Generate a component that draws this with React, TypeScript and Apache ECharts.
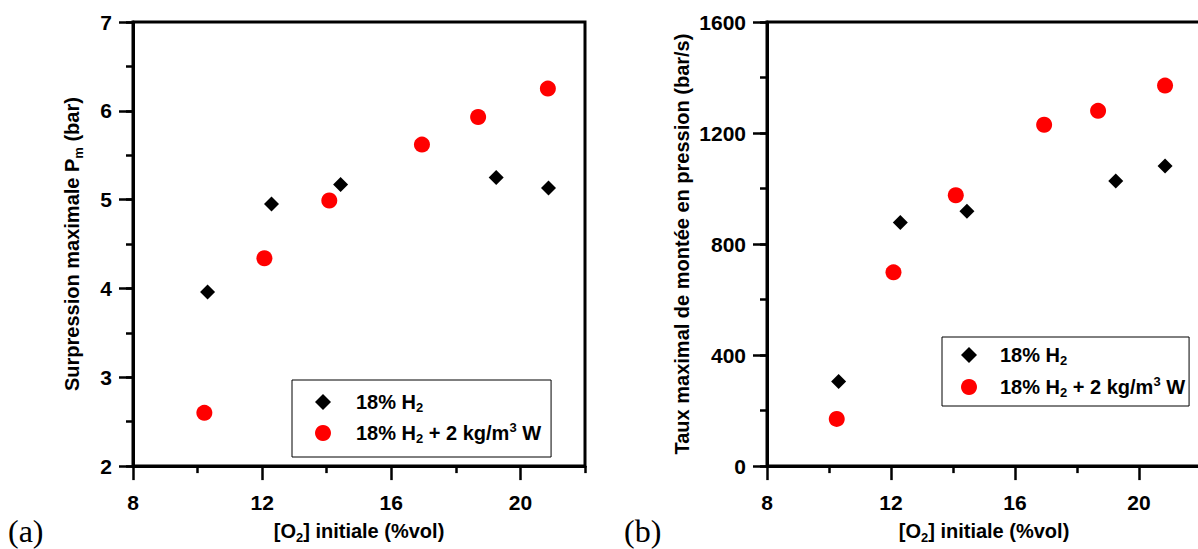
import React, { useEffect, useRef } from "react";
import * as echarts from "echarts";

// ---- data ----
const seriesNames = ["18% H2", "18% H2 + 2 kg/m3 W"];

// panel (a): maximum overpressure Pm (bar) vs initial O2 (%vol)
const o2A_H2 = [10.31, 12.29, 14.43, 19.25, 20.87];
const pmA_H2 = [3.96, 4.95, 5.17, 5.25, 5.13];
const o2A_W = [10.21, 12.07, 14.08, 16.95, 18.69, 20.85];
const pmA_W = [2.6, 4.34, 4.99, 5.62, 5.93, 6.25];

// panel (b): max rate of pressure rise (bar/s) vs initial O2 (%vol)
const o2B_H2 = [10.31, 12.3, 14.45, 19.25, 20.84];
const rateB_H2 = [305, 878, 918, 1027, 1081];
const o2B_W = [10.25, 12.08, 14.09, 16.94, 18.68, 20.84];
const rateB_W = [170, 698, 976, 1230, 1280, 1371];

// axis ticks
const xMajorTicks = [8, 12, 16, 20];
const xMinorTicks = [10, 14, 18, 22];

const FONT = '"Liberation Sans", Arial, Helvetica, sans-serif';
const zip = (xs: number[], ys: number[]) => xs.map((x, i) => [x, ys[i]]);

const sub = { fontFamily: FONT, fontWeight: "bold", fontSize: 13, lineHeight: 14, verticalAlign: "bottom", color: "#000" };
const sup = { fontFamily: FONT, fontWeight: "bold", fontSize: 13, lineHeight: 14, verticalAlign: "top", color: "#000" };

function legendFormatter(name: string) {
  if (name === seriesNames[0]) return "{sp| }18% H{s|2}";
  return "{sp| }18% H{s|2} + 2 kg/m{u|3} W";
}

function makeXAxes(gridIndex: number) {
  const common = { type: "value", gridIndex, min: 8, max: 22, position: "bottom" };
  return [
    {
      ...common,
      interval: 4,
      name: "[O{s|2}] initiale (%vol)",
      nameLocation: "middle",
      nameGap: 43,
      nameTextStyle: {
        fontFamily: FONT, fontWeight: "bold", fontSize: 20, color: "#000", lineHeight: 26,
        rich: { s: sub },
      },
      axisLine: { show: true, lineStyle: { color: "#000", width: 3 } },
      axisTick: { show: true, length: 14, customValues: xMajorTicks, lineStyle: { color: "#000", width: 2.5 } },
      axisLabel: {
        customValues: xMajorTicks, margin: 26,
        fontFamily: FONT, fontWeight: "bold", fontSize: 21, color: "#000",
        formatter: (v: number) => String(v),
      },
      splitLine: { show: false },
    },
    {
      ...common,
      interval: 2,
      axisLine: { show: false },
      axisTick: { show: true, length: 7, customValues: xMinorTicks, lineStyle: { color: "#000", width: 2.5 } },
      axisLabel: { show: false },
      splitLine: { show: false },
    },
  ];
}

function makeYAxes(gridIndex: number, min: number, max: number, interval: number, minor: number, name: string, nameGap: number) {
  const common = { type: "value", gridIndex, min, max, position: "left" };
  return [
    {
      ...common,
      interval,
      name,
      nameLocation: "middle",
      nameGap,
      nameTextStyle: {
        fontFamily: FONT, fontWeight: "bold", fontSize: 20, color: "#000", lineHeight: 26,
        rich: { s: sub },
      },
      axisLine: { show: true, lineStyle: { color: "#000", width: 3 } },
      axisTick: { show: true, length: 14, lineStyle: { color: "#000", width: 2.5 } },
      axisLabel: {
        margin: 21, fontFamily: FONT, fontWeight: "bold", fontSize: 21, color: "#000",
        formatter: (v: number) => String(v),
      },
      splitLine: { show: false },
    },
    {
      ...common,
      interval: minor,
      axisLine: { show: false },
      axisTick: { show: true, length: 7, lineStyle: { color: "#000", width: 2.5 } },
      axisLabel: { show: false },
      splitLine: { show: false },
    },
  ];
}

function makeLegend(left: number, top: number, padding: number[], itemGap: number, spacer: number) {
  return {
    orient: "vertical",
    left,
    top,
    padding,
    itemGap,
    itemWidth: 16,
    itemHeight: 16,
    borderColor: "#000",
    borderWidth: 1,
    backgroundColor: "#fff",
    selectedMode: false,
    data: [
      { name: seriesNames[0], icon: "diamond", itemStyle: { color: "#000", opacity: 1 } },
      { name: seriesNames[1], icon: "circle", itemStyle: { color: "#ff0000", opacity: 1 } },
    ],
    formatter: legendFormatter,
    textStyle: {
      fontFamily: FONT, fontWeight: "bold", fontSize: 20, color: "#000", lineHeight: 24,
      rich: { s: sub, u: sup, sp: { width: spacer, fontSize: 10, lineHeight: 14 } },
    },
  };
}

export default function App() {
  const ref = useRef<HTMLDivElement>(null);
  useEffect(() => {
    if (!ref.current) return;
    const chart = echarts.init(ref.current, undefined, { renderer: "svg" });
    const gridStyle = { show: true, borderColor: "#000", borderWidth: 3, backgroundColor: "transparent", containLabel: false };
    const black = { color: "#000", opacity: 1 };
    const red = { color: "#ff0000", opacity: 1 };
    chart.setOption({
      animation: false,
      backgroundColor: "#fff",
      grid: [
        { ...gridStyle, left: 133, top: 22, width: 452, height: 451 },
        { ...gridStyle, left: 767, top: 22, width: 434, height: 451 },
      ],
      xAxis: [...makeXAxes(0), ...makeXAxes(1)],
      yAxis: [
        ...makeYAxes(0, 2, 7, 1, 0.5, "Surpression maximale P{s|m} (bar)", 48),
        ...makeYAxes(1, 0, 1600, 400, 200, "Taux maximal de montée en pression (bar/s)", 71),
      ],
      legend: [
        makeLegend(292, 380, [10, 10, 12, 23], 7, 20),
        makeLegend(942, 337, [6, 4, 7, 19], 8, 18),
      ],
      series: [
        { name: seriesNames[0], type: "scatter", xAxisIndex: 0, yAxisIndex: 0, symbol: "diamond", symbolSize: 15, itemStyle: black, data: zip(o2A_H2, pmA_H2) },
        { name: seriesNames[1], type: "scatter", xAxisIndex: 0, yAxisIndex: 0, symbol: "circle", symbolSize: 16, itemStyle: red, data: zip(o2A_W, pmA_W) },
        { name: seriesNames[0], type: "scatter", xAxisIndex: 2, yAxisIndex: 2, symbol: "diamond", symbolSize: 15, itemStyle: black, data: zip(o2B_H2, rateB_H2) },
        { name: seriesNames[1], type: "scatter", xAxisIndex: 2, yAxisIndex: 2, symbol: "circle", symbolSize: 16, itemStyle: red, data: zip(o2B_W, rateB_W) },
      ],
      graphic: [
        { type: "text", left: 8, top: 515, style: { text: "(a)", fontFamily: '"Liberation Serif", "Times New Roman", serif', fontSize: 32, fill: "#000" } },
        { type: "text", left: 624, top: 515, style: { text: "(b)", fontFamily: '"Liberation Serif", "Times New Roman", serif', fontSize: 32, fill: "#000" } },
      ],
    });
    return () => chart.dispose();
  }, []);
  return (
    <div style={{ position: "fixed", left: 0, top: 0, width: 1198, height: 549, overflow: "hidden", background: "#fff" }}>
      <div ref={ref} style={{ width: 1210, height: 549 }} />
    </div>
  );
}
